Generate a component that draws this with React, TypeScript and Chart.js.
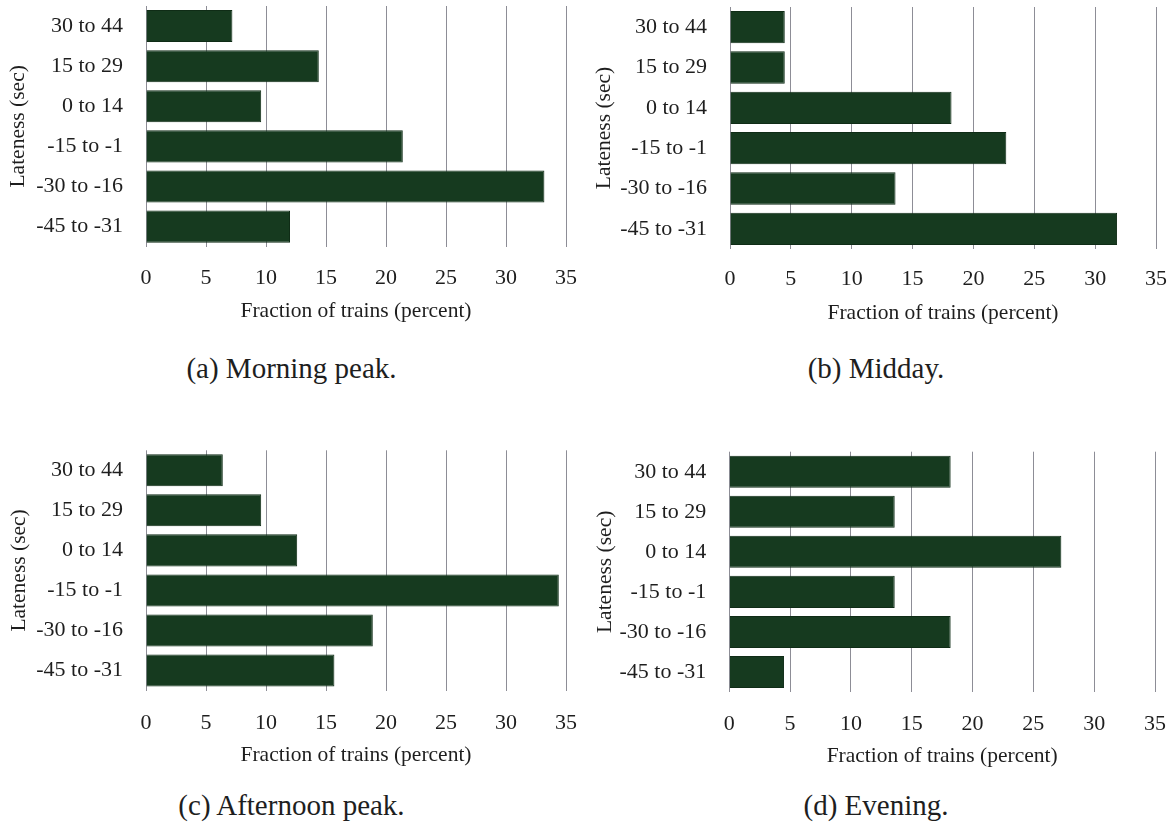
import React, { useEffect, useRef } from 'react';
import { Chart, registerables } from 'chart.js';

Chart.register(...registerables);

// ---- data ----
const categories = ['30 to 44', '15 to 29', '0 to 14', '-15 to -1', '-30 to -16', '-45 to -31'];
const morningPeak = [7.2, 14.4, 9.6, 21.4, 33.2, 12.0];
const midday = [4.5, 4.5, 18.2, 22.7, 13.6, 31.8];
const afternoonPeak = [6.4, 9.6, 12.6, 34.4, 18.9, 15.7];
const evening = [18.2, 13.6, 27.3, 13.6, 18.2, 4.5];
const xMin = 0;
const xMax = 35;
const xStep = 5;
const xAxisTitle = 'Fraction of trains (percent)';
const yAxisTitle = 'Lateness (sec)';
const captions = ['(a) Morning peak.', '(b) Midday.', '(c) Afternoon peak.', '(d) Evening.'];

const FONT = "'Liberation Serif', 'Times New Roman', serif";
const BAR = '#163a1f';
const BAR_EDGE = '#0f2c16';
const GRID = '#8d8d96';
const TEXT = '#1e1e1e';
const CLEAR = 'rgba(0,0,0,0)';
const TICK_SIZE = 22;
const TITLE_SIZE = 21.5;

type PanelLayout = {
  left: number; top: number; width: number; height: number;
  padTop: number; padRight: number; yW: number; xH: number;
  xTickPad: number; xTitlePad: number; yTitlePad: number;
  captionX: number; captionY: number;
};

const layouts: PanelLayout[] = [
  { left: 0, top: 0, width: 584, height: 330, padTop: 6, padRight: 18, yW: 146, xH: 83.3, xTickPad: 18.5, xTitlePad: 5.5, yTitlePad: 5.7, captionX: 291.5, captionY: 368 },
  { left: 585, top: 0, width: 584, height: 330, padTop: 7, padRight: 13, yW: 145, xH: 81, xTickPad: 17.2, xTitlePad: 3.9, yTitlePad: 6, captionX: 876, captionY: 368 },
  { left: 0, top: 440, width: 584, height: 340, padTop: 10.3, padRight: 18, yW: 146, xH: 89.5, xTickPad: 19.7, xTitlePad: 12.2, yTitlePad: 6, captionX: 291.5, captionY: 805 },
  { left: 585, top: 440, width: 584, height: 340, padTop: 11.7, padRight: 14, yW: 144.3, xH: 88, xTickPad: 18.9, xTitlePad: 11.2, yTitlePad: 7.8, captionX: 876, captionY: 805 },
];

function Panel({ values, caption, lay }: { values: number[]; caption: string; lay: PanelLayout }) {
  const ref = useRef<HTMLCanvasElement>(null);
  useEffect(() => {
    if (!ref.current) return;
    const chart = new Chart(ref.current, {
      type: 'bar',
      data: {
        labels: categories,
        datasets: [{
          data: values,
          backgroundColor: BAR,
          borderColor: BAR_EDGE,
          borderWidth: 1,
          barPercentage: 0.8,
          categoryPercentage: 1,
        }],
      },
      options: {
        indexAxis: 'y',
        animation: false,
        responsive: false,
        maintainAspectRatio: false,
        layout: { padding: { left: 0, top: lay.padTop, right: lay.padRight, bottom: 0 } },
        plugins: { legend: { display: false }, tooltip: { enabled: false } },
        scales: {
          x: {
            type: 'linear',
            min: xMin,
            max: xMax,
            ticks: { stepSize: xStep, padding: 0, color: TEXT, font: { family: FONT, size: TICK_SIZE } },
            grid: { color: GRID, lineWidth: 1, drawTicks: true, tickLength: lay.xTickPad, tickColor: CLEAR },
            border: { display: false },
            title: { display: true, text: xAxisTitle, color: TEXT, font: { family: FONT, size: TITLE_SIZE }, padding: { top: 0, bottom: lay.xTitlePad } },
            afterFit: (s: any) => { s.height = lay.xH; },
          },
          y: {
            ticks: { padding: 0, color: TEXT, font: { family: FONT, size: TICK_SIZE } },
            grid: { display: true, drawOnChartArea: false, drawTicks: true, tickLength: 23, tickColor: CLEAR, color: CLEAR },
            border: { display: false },
            title: { display: true, text: yAxisTitle, color: TEXT, font: { family: FONT, size: TITLE_SIZE }, padding: { top: lay.yTitlePad, bottom: 0 } },
            afterFit: (s: any) => { s.width = lay.yW; s.paddingTop = 0; s.paddingBottom = 0; },
          },
        },
      },
    } as any);
    return () => chart.destroy();
  }, [values, lay]);
  return (
    <>
      <canvas
        ref={ref}
        width={lay.width}
        height={lay.height}
        style={{ position: 'absolute', left: lay.left, top: lay.top, width: lay.width, height: lay.height }}
      />
      <div
        style={{
          position: 'absolute', left: lay.captionX - 200, width: 400, top: lay.captionY - 17,
          height: 34, lineHeight: '34px', textAlign: 'center', fontFamily: FONT, fontSize: 29, color: TEXT,
        }}
      >
        {caption}
      </div>
    </>
  );
}

export default function App() {
  const series = [morningPeak, midday, afternoonPeak, evening];
  return (
    <div style={{ position: 'absolute', left: 0, top: 0, width: 1169, height: 826, background: '#fff', overflow: 'hidden' }}>
      {series.map((s, i) => (
        <Panel key={i} values={s} caption={captions[i]} lay={layouts[i]} />
      ))}
    </div>
  );
}
